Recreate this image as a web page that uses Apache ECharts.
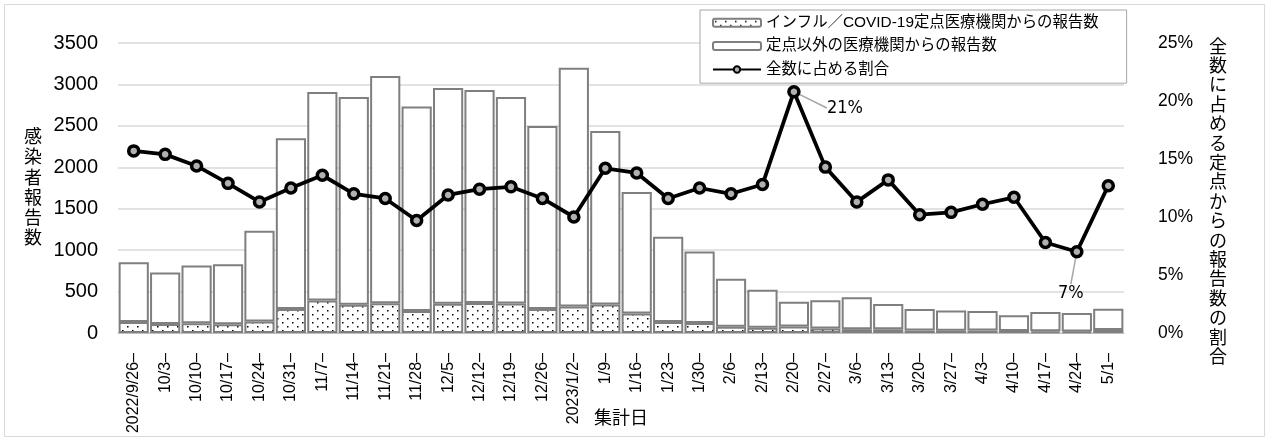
<!DOCTYPE html>
<html>
<head>
<meta charset="utf-8">
<script src="https://cdn.jsdelivr.net/npm/echarts@6/dist/echarts.min.js"></script>
<style>
  html, body { margin: 0; padding: 0; background: #fff; }
  #chart { width: 1269px; height: 441px; }
</style>
</head>
<body>
<div id="chart"></div>
<script>
// 集計日
const weeks = ['2022/9/26–', '10/3–', '10/10–', '10/17–', '10/24–', '10/31–', '11/7–', '11/14–',
  '11/21–', '11/28–', '12/5–', '12/12–', '12/19–', '12/26–', '2023/1/2–', '1/9–', '1/16–',
  '1/23–', '1/30–', '2/6–', '2/13–', '2/20–', '2/27–', '3/6–', '3/13–', '3/20–', '3/27–',
  '4/3–', '4/10–', '4/17–', '4/24–', '5/1–'];

// インフル／COVID-19定点医療機関からの報告数
const sentinelCounts = [132, 110, 118, 107, 138, 290, 392, 340, 360, 265, 352, 362, 355, 290, 320, 345,
  236, 134, 122, 75, 64, 77, 55, 46, 45, 29, 28, 29, 25, 20, 17, 37];

// 定点以外の医療機関からの報告数
const otherCounts = [723, 621, 698, 724, 1095, 2060, 2516, 2508, 2741, 2470, 2604, 2570, 2493, 2208, 2881, 2093,
  1467, 1027, 862, 581, 458, 300, 341, 384, 304, 260, 245, 236, 188, 233, 224, 256];

// 全数に占める割合 (%)
const sharePct = [15.7, 15.4, 14.4, 12.9, 11.3, 12.5, 13.6, 12.0, 11.6, 9.7, 11.9, 12.4, 12.6, 11.6, 10.0, 14.2,
  13.8, 11.6, 12.5, 12.0, 12.8, 20.8, 14.3, 11.3, 13.2, 10.2, 10.4, 11.1, 11.7, 7.8, 7.0, 12.7];

const countTicks = [0, 3500, 500];
const pctTicks = [0, 25, 5];

const FONT = '"Liberation Sans", "Noto Sans CJK JP", sans-serif';

// 点々の塗りパターン
function dotPattern() {
  const c = document.createElement('canvas');
  c.width = 10;
  c.height = 8;
  const ctx = c.getContext('2d');
  ctx.fillStyle = '#fff';
  ctx.fillRect(0, 0, 10, 8);
  ctx.fillStyle = '#000';
  ctx.fillRect(2, 2, 1.5, 1.5);
  ctx.fillRect(7, 6, 1.5, 1.5);
  return c;
}

// 縦書きの軸タイトル
function verticalTitle(text, x, y, lh) {
  return {
    type: 'text',
    x: x,
    y: y,
    style: {
      text: text.split('').join('\n'),
      font: '18px "Noto Sans CJK JP", sans-serif',
      lineHeight: lh,
      fill: '#000',
      align: 'center',
      verticalAlign: 'top'
    }
  };
}

const chart = echarts.init(document.getElementById('chart'));

const shareData = sharePct.map((v, i) => {
  if (i === 21 || i === 30) {
    return { value: v, label: { show: true } };
  }
  return v;
});

chart.setOption({
  animation: false,
  textStyle: { fontFamily: FONT },
  graphic: [{
    type: 'rect',
    shape: { x: 4.5, y: 4.5, width: 1260, height: 432 },
    style: { fill: 'none', stroke: '#d9d9d9', lineWidth: 1 },
    z: -1
  },
  verticalTitle('感染者報告数', 33, 126, 20.3),
  verticalTitle('全数に占める定点からの報告数の割合', 1218, 36, 19.4)
  ],
  legend: {
    orient: 'vertical',
    left: 700,
    top: 10,
    align: 'left',
    backgroundColor: '#fff',
    borderColor: '#a6a6a6',
    borderWidth: 1,
    padding: [5, 28, 6, 12],
    itemWidth: 48,
    itemHeight: 8,
    itemGap: 8,
    textStyle: { fontSize: 15.4, color: '#000', fontFamily: FONT },
    data: ['インフル／COVID-19定点医療機関からの報告数', '定点以外の医療機関からの報告数', '全数に占める割合']
  },
  grid: { left: 118, right: 145, top: 43, bottom: 108, outerBoundsMode: 'none' },
  xAxis: {
    type: 'category',
    data: weeks,
    name: '集計日',
    nameLocation: 'middle',
    nameGap: 77,
    nameMoveOverlap: false,
    nameTextStyle: { fontSize: 18, color: '#000' },
    axisTick: { show: false },
    axisLine: { lineStyle: { color: '#bfbfbf', width: 1 } },
    axisLabel: { rotate: 90, interval: 0, margin: 20, fontSize: 16, color: '#000' }
  },
  yAxis: [{
    type: 'value',
    min: countTicks[0],
    max: countTicks[1],
    interval: countTicks[2],
    axisLine: { show: false },
    axisTick: { show: false },
    axisLabel: { fontSize: 20, margin: 20, color: '#000', formatter: (v) => String(v) },
    splitLine: { lineStyle: { color: '#d9d9d9', width: 1.5 } }
  }, {
    type: 'value',
    min: pctTicks[0],
    max: pctTicks[1],
    interval: pctTicks[2],
    axisLine: { show: false },
    axisTick: { show: false },
    axisLabel: { fontSize: 17.5, margin: 34, color: '#000', formatter: (v) => v + '%' },
    splitLine: { show: false }
  }],
  series: [{
    name: 'インフル／COVID-19定点医療機関からの報告数',
    type: 'bar',
    stack: 'count',
    data: sentinelCounts,
    barCategoryGap: '4%',
    itemStyle: {
      color: { image: dotPattern(), repeat: 'repeat' },
      borderColor: '#7f7f7f',
      borderWidth: 2
    }
  }, {
    name: '定点以外の医療機関からの報告数',
    type: 'bar',
    stack: 'count',
    data: otherCounts,
    itemStyle: {
      color: '#fff',
      borderColor: '#7f7f7f',
      borderWidth: 2
    }
  }, {
    name: '全数に占める割合',
    type: 'line',
    yAxisIndex: 1,
    data: shareData,
    symbol: 'circle',
    symbolSize: 10,
    lineStyle: { color: '#000', width: 3.8 },
    itemStyle: { color: '#b0b0b0', borderColor: '#000', borderWidth: 3.5 },
    label: {
      show: false,
      formatter: (p) => Math.round(p.value) + '%',
      fontSize: 18,
      color: '#000',
      fontFamily: '"DejaVu Sans Condensed", "Liberation Sans Narrow", sans-serif'
    },
    labelLine: { show: true, lineStyle: { color: '#a6a6a6', width: 1.5 } },
    labelLayout: function (params) {
      if (params.dataIndex === 21) {
        return { dx: 51, dy: 37 };
      }
      if (params.dataIndex === 30) {
        return { dx: -6, dy: 62 };
      }
    },
    z: 5
  }]
});
</script>
</body>
</html>
